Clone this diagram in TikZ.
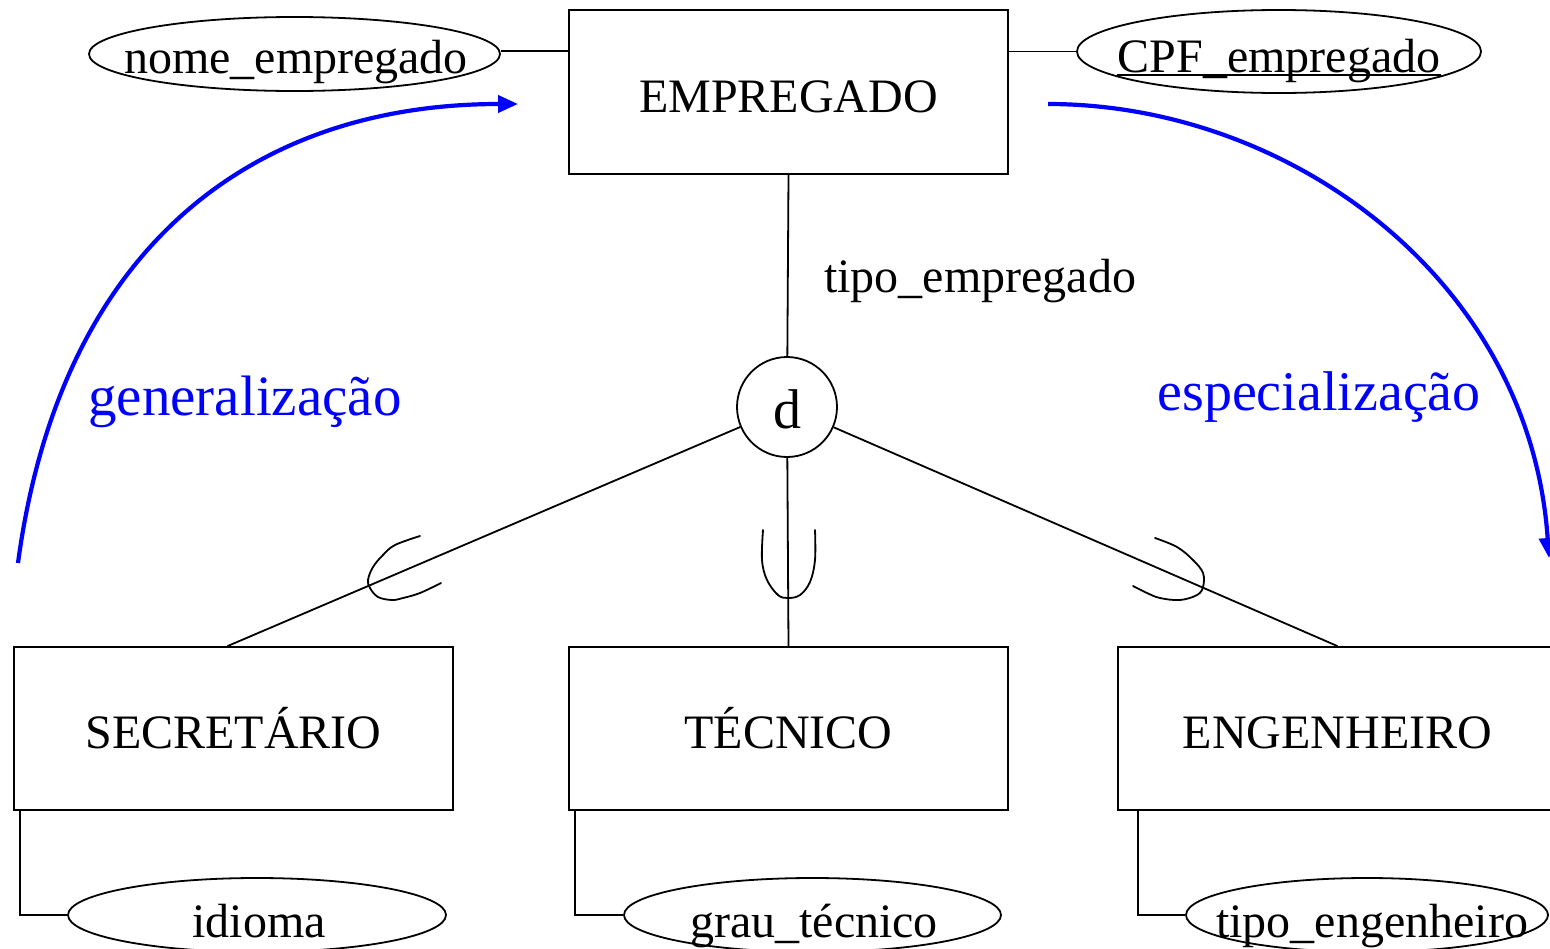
\documentclass[tikz,border=0pt]{standalone}
\usepackage{fontspec}
\setmainfont{Liberation Serif}
\usetikzlibrary{arrows.meta,shapes.geometric}
\begin{document}
\begin{tikzpicture}[x=1pt,y=-1pt,
  line width=1.8pt,
  ent/.style={draw, rectangle, minimum width=439pt, minimum height=163pt, inner sep=0pt,
    font=\fontsize{48}{56}\selectfont, text height=40pt, text depth=0pt},
  attr/.style={draw, ellipse, inner sep=0pt},
  lbl/.style={anchor=base, inner sep=0pt, font=\fontsize{48}{56}\selectfont},
  blbl/.style={anchor=base, inner sep=0pt, text=blue, font=\fontsize{57}{64}\selectfont},
  disj/.style={draw, circle, minimum size=100pt, inner sep=0pt,
    font=\fontsize{56}{60}\selectfont, text height=42pt, text depth=0pt},
  subs/.style={line width=1.8pt, line cap=round},
  garrow/.style={draw=blue, line width=4.2pt, -{Triangle[length=20pt,width=17pt]}}
]
\useasboundingbox (0,0) rectangle (1550,948);

% entities
\node[ent, minimum height=164pt] (emp) at (788.5,92) {EMPREGADO};
\node[ent] (sec) at (233.5,728.5) {SECRETÁRIO};
\node[ent] (tec) at (788.5,728.5) {TÉCNICO};
\node[ent] (eng) at (1337.5,728.5) {ENGENHEIRO};

% disjoint circle
\node[disj] (d) at (787,407) {d};

% attributes
\node[attr, minimum width=411pt, minimum height=74pt] (nome) at (294.5,54) {};
\node[lbl] (nomet) at (296,73) {nome\_empregado};
\node[attr, minimum width=404pt, minimum height=83pt] (cpf) at (1279,51.5) {};
\node[lbl] (cpft) at (1279,72) {CPF\_empregado};
\draw ([yshift=-3pt]cpft.base west) -- ([yshift=-3pt]cpft.base east);

\node[attr, minimum width=378pt, minimum height=74pt] (idioma) at (257,915) {};
\node[lbl] (idiomat) at (259,937) {idioma};
\node[attr, minimum width=377pt, minimum height=74pt] (grau) at (812.5,915) {};
\node[lbl] (graut) at (814,937) {grau\_técnico};
\node[attr, minimum width=362pt, minimum height=74pt] (tipoeng) at (1367,915) {};
\node[lbl] (tipoengt) at (1372,937) {tipo\_engenheiro};

% attribute connectors
\draw ([yshift=3pt]nome.east) -- ([yshift=3pt]nome.east -| emp.west);
\draw (cpf.west) -- (cpf.west -| emp.east);
\draw ([xshift=7pt]sec.south west) |- (idioma.west);
\draw ([xshift=7pt]tec.south west) |- (grau.west);
\draw ([xshift=21pt]eng.south west) |- (tipoeng.west);

% specialization lines
\draw (emp.south) -- (d);
\node[lbl] (tipoemp) at (980,292) {tipo\_empregado};
\draw (d) -- ([xshift=-6pt]sec.north);
\draw (d) -- (tec.north);
\draw (d) -- (eng.north);

% subset symbols
\draw[subs] plot[smooth, tension=0.6] coordinates {(420,536) (395,545) (383,555) (373,567) (368,580) (370,588) (378,597) (392,600) (403,598) (420,593) (441,583)};
\draw[subs] plot[smooth, tension=0.6] coordinates {(763,530) (762,560) (767,580) (778,595) (788,598) (800,595) (810,582) (815,560) (815,530)};
\draw[subs] plot[smooth, tension=0.6] coordinates {(1155,538) (1177,547) (1193,560) (1203,573) (1203,587) (1197,595) (1180,600) (1160,598) (1147,593) (1133,586)};

% generalization / specialization arrows
\coordinate (gstart) at (18,563);
\coordinate (gend) at (518,104);
\coordinate (sstart) at (1048,104);
\coordinate (send) at (1549,558);
\draw[garrow] (gstart) .. controls (60,250) and (250,104) .. (gend);
\draw[garrow] (sstart) .. controls (1290,104) and (1530,280) .. (send);
\node[blbl] (gen) at (245,415) {generalização};
\node[blbl, font=\fontsize{56}{64}\selectfont] (esp) at (1319,410) {especialização};
\end{tikzpicture}
\end{document}
